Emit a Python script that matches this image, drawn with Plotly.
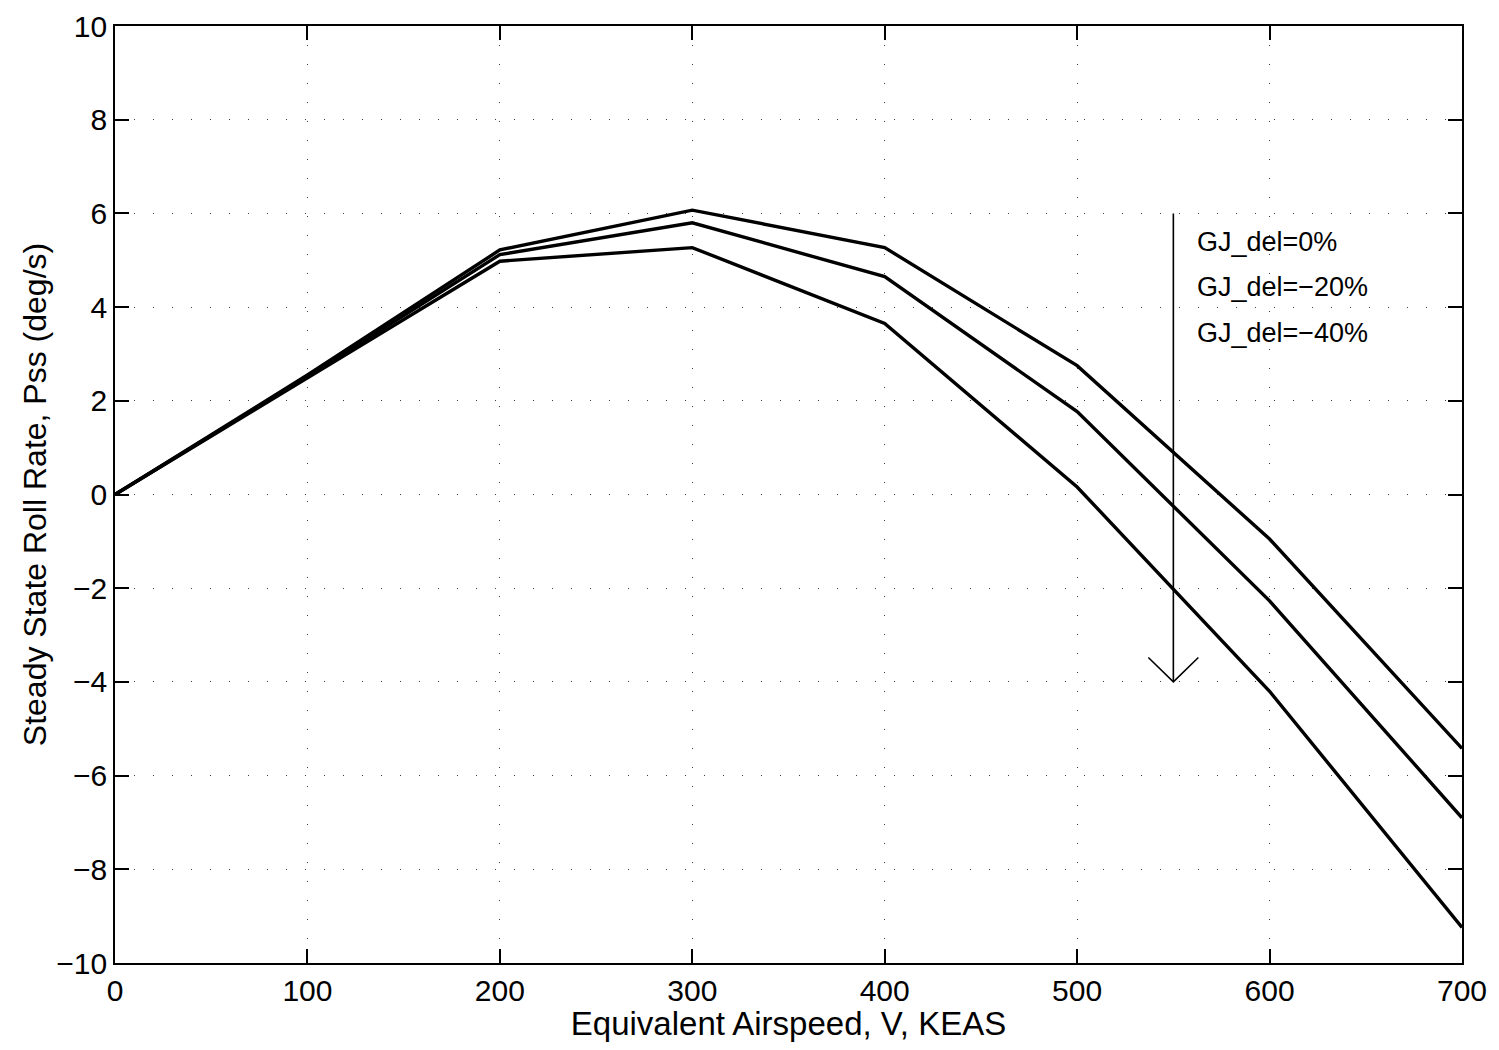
import plotly.graph_objects as go

# Data
airspeed = [0, 100, 200, 300, 400, 500, 600, 700]
pss_0 = [0, 2.55, 5.22, 6.07, 5.27, 2.75, -0.95, -5.42]
pss_m20 = [0, 2.52, 5.12, 5.80, 4.65, 1.77, -2.27, -6.90]
pss_m40 = [0, 2.48, 4.98, 5.27, 3.65, 0.16, -4.20, -9.24]
series_labels = ["GJ_del=0%", "GJ_del=\u221220%", "GJ_del=\u221240%"]
label_y = [5.40, 4.42, 3.44]
label_x = 561

arrow_x = 550
arrow_top = 6
arrow_bottom = -4
head_dx = 13
head_dy = 0.52

x_ticks = [0, 100, 200, 300, 400, 500, 600, 700]
y_ticks = [-10, -8, -6, -4, -2, 0, 2, 4, 6, 8, 10]
y_tick_text = ["\u221210", "\u22128", "\u22126", "\u22124", "\u22122", "0", "2", "4", "6", "8", "10"]

font_family = "Liberation Sans, Arial, Helvetica, sans-serif"

fig = go.Figure()
for ys in (pss_0, pss_m20, pss_m40):
    fig.add_trace(go.Scatter(x=airspeed, y=ys, mode="lines",
                             line=dict(color="black", width=3.4),
                             showlegend=False, hoverinfo="skip"))

# Arrow shaft and open head
fig.add_trace(go.Scatter(x=[arrow_x, arrow_x], y=[arrow_top, arrow_bottom], mode="lines",
                         line=dict(color="black", width=1.6), showlegend=False, hoverinfo="skip"))
fig.add_trace(go.Scatter(x=[arrow_x - head_dx, arrow_x, arrow_x + head_dx],
                         y=[arrow_bottom + head_dy, arrow_bottom, arrow_bottom + head_dy],
                         mode="lines", line=dict(color="black", width=1.6),
                         showlegend=False, hoverinfo="skip"))

for lbl, ly in zip(series_labels, label_y):
    fig.add_annotation(x=label_x, y=ly, text=lbl, showarrow=False,
                       xanchor="left", yanchor="middle",
                       font=dict(family=font_family, size=27, color="black"))

axis_common = dict(
    showline=True, linecolor="black", linewidth=1.6, mirror="ticks",
    ticks="inside", ticklen=14, tickwidth=1.6, tickcolor="black",
    showgrid=True, gridcolor="rgba(0,0,0,0.75)", gridwidth=1, griddash="1px,18px",
    zeroline=False, automargin=False, ticklabeloverflow="allow",
    tickfont=dict(family=font_family, size=30, color="black"),
)

fig.update_xaxes(range=[0, 700], tickvals=x_ticks,
                 title=dict(text="Equivalent Airspeed, V, KEAS", standoff=0,
                            font=dict(family=font_family, size=33, color="black")),
                 **axis_common)
fig.update_yaxes(range=[-10, 10], tickvals=y_ticks, ticktext=y_tick_text,
                 title=dict(text="Steady State Roll Rate, Pss (deg/s)", standoff=0,
                            font=dict(family=font_family, size=32, color="black")),
                 **axis_common)

fig.update_layout(
    width=1483, height=1034,
    margin=dict(l=107, r=29, t=18, b=79),
    plot_bgcolor="white", paper_bgcolor="white",
)

fig.write_html("out.html")
